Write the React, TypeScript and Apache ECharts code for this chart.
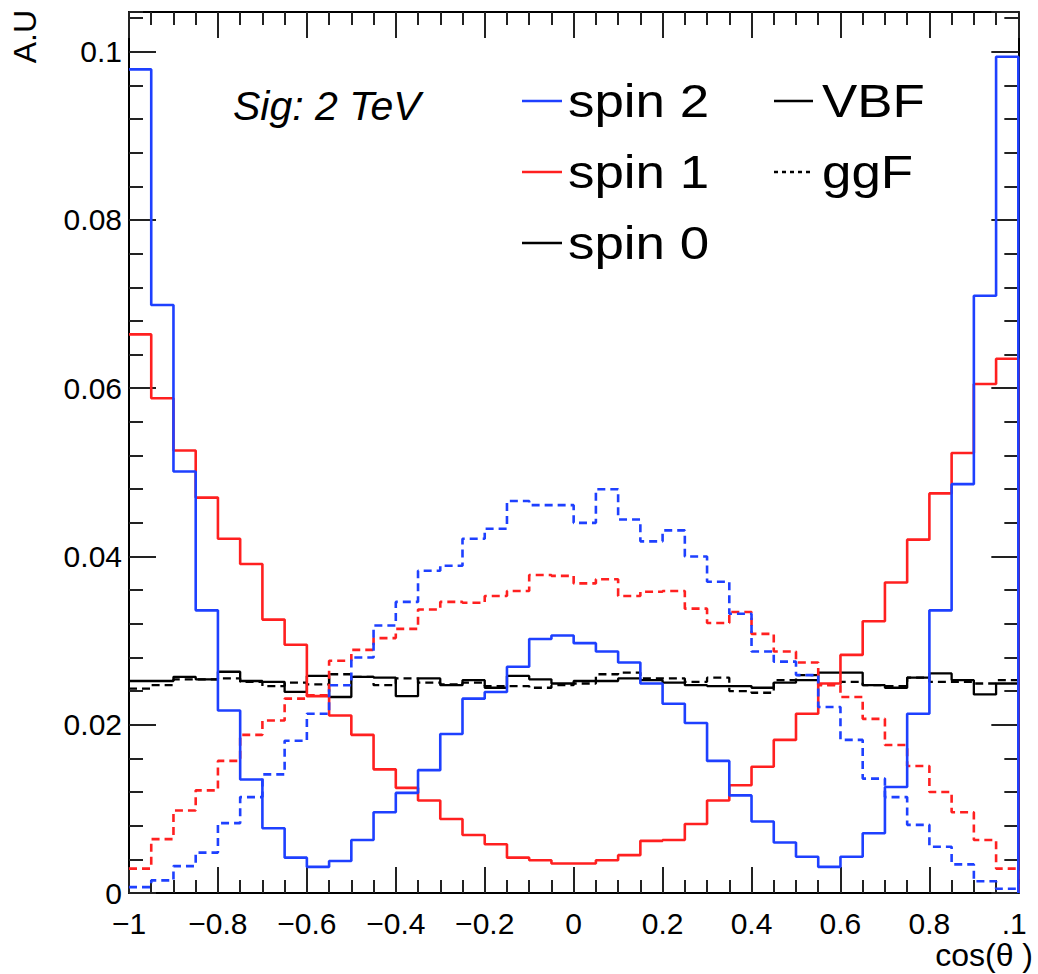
import React, { useEffect, useRef } from "react";
import * as echarts from "echarts";

// 40 bins in cos(theta) from -1 to 1
const binCount = 40;
const xMin = -1;
const xMax = 1;
const binEdges = Array.from({ length: binCount + 1 }, (_, i) => +(xMin + (i * (xMax - xMin)) / binCount).toFixed(3));

const xTickValues = [-1, -0.8, -0.6, -0.4, -0.2, 0, 0.2, 0.4, 0.6, 0.8, 1];
const yTickValues = [0, 0.02, 0.04, 0.06, 0.08, 0.1];

// spin 2
const spin2VBF = [
  0.0979, 0.0699, 0.0501, 0.0336, 0.0217, 0.0135, 0.0077, 0.0042, 0.0031, 0.0038,
  0.0063, 0.0096, 0.0119, 0.0146, 0.0189, 0.0231, 0.0239, 0.0269, 0.0302, 0.0306,
  0.0297, 0.0287, 0.0274, 0.0249, 0.0225, 0.0202, 0.0157, 0.0116, 0.0085, 0.0060,
  0.0043, 0.0031, 0.0043, 0.0071, 0.0126, 0.0213, 0.0336, 0.0486, 0.0710, 0.0994,
];
const spin2ggF = [
  0.0007, 0.0015, 0.0032, 0.0048, 0.0083, 0.0114, 0.0141, 0.0181, 0.0213, 0.0247,
  0.0280, 0.0318, 0.0346, 0.0383, 0.0389, 0.0421, 0.0433, 0.0466, 0.0461, 0.0461,
  0.0440, 0.0480, 0.0444, 0.0418, 0.0431, 0.0400, 0.0370, 0.0332, 0.0287, 0.0275,
  0.0259, 0.0221, 0.0182, 0.0136, 0.0114, 0.0081, 0.0055, 0.0034, 0.0014, 0.0005,
];
// spin 1
const spin1VBF = [
  0.0664, 0.0588, 0.0526, 0.0470, 0.0421, 0.0391, 0.0325, 0.0295, 0.0234, 0.0211,
  0.0188, 0.0147, 0.0125, 0.0110, 0.0088, 0.0069, 0.0058, 0.0042, 0.0039, 0.0035,
  0.0035, 0.0039, 0.0045, 0.0062, 0.0063, 0.0082, 0.0110, 0.0128, 0.0150, 0.0182,
  0.0213, 0.0249, 0.0283, 0.0323, 0.0369, 0.0420, 0.0475, 0.0523, 0.0605, 0.0635,
];
const spin1ggF = [
  0.0029, 0.0064, 0.0098, 0.0122, 0.0157, 0.0188, 0.0205, 0.0231, 0.0235, 0.0276,
  0.0289, 0.0303, 0.0314, 0.0337, 0.0346, 0.0345, 0.0353, 0.0359, 0.0378, 0.0377,
  0.0368, 0.0373, 0.0353, 0.0358, 0.0359, 0.0338, 0.0321, 0.0334, 0.0308, 0.0287,
  0.0274, 0.0247, 0.0233, 0.0207, 0.0176, 0.0151, 0.0120, 0.0096, 0.0063, 0.0029,
];
// spin 0
const spin0VBF = [
  0.0252, 0.0252, 0.0257, 0.0254, 0.0263, 0.0252, 0.0251, 0.0239, 0.0258, 0.0233,
  0.0257, 0.0256, 0.0234, 0.0255, 0.0247, 0.0253, 0.0244, 0.0258, 0.0254, 0.0249,
  0.0252, 0.0252, 0.0255, 0.0253, 0.0250, 0.0247, 0.0246, 0.0246, 0.0244, 0.0250,
  0.0253, 0.0262, 0.0262, 0.0247, 0.0244, 0.0256, 0.0261, 0.0253, 0.0236, 0.0249,
];
const spin0ggF = [
  0.0243, 0.0247, 0.0254, 0.0254, 0.0255, 0.0251, 0.0246, 0.0250, 0.0248, 0.0260,
  0.0257, 0.0247, 0.0255, 0.0250, 0.0248, 0.0250, 0.0246, 0.0246, 0.0244, 0.0247,
  0.0249, 0.0260, 0.0262, 0.0255, 0.0255, 0.0251, 0.0256, 0.0240, 0.0238, 0.0253,
  0.0259, 0.0248, 0.0251, 0.0247, 0.0246, 0.0256, 0.0251, 0.0251, 0.0249, 0.0253,
];

const BLUE = "#1e40ff";
const RED = "#ff2020";
const BLACK = "#000000";
const FONT = "Liberation Sans";
const Y_MAX = 0.10472;

function histPoints(values: number[]) {
  const pts: number[][] = [];
  values.forEach((v, i) => {
    pts.push([binEdges[i], v]);
    pts.push([binEdges[i + 1], v]);
  });
  pts.push([binEdges[binEdges.length - 1], 0]);
  return pts;
}

function histSeries(name: string, values: number[], color: string, dashed: boolean, width: number) {
  return {
    name,
    type: "line",
    data: histPoints(values),
    symbol: "none",
    showSymbol: false,
    silent: true,
    clip: false,
    xAxisIndex: 0,
    yAxisIndex: 0,
    lineStyle: { color, width, type: dashed ? [8, 5] : "solid" },
    emphasis: { disabled: true },
  };
}

const tickStyle = { color: "#222", width: 2 };

export default function App() {
  const ref = useRef<HTMLDivElement>(null);
  useEffect(() => {
    if (!ref.current) return;
    const chart = echarts.init(ref.current, undefined, { renderer: "svg" });
    const xLabelFmt = (v: number) => {
      const r = +v.toFixed(3);
      if (r === 1) return ".1\u00a0";
      return r < 0 ? "\u2212" + String(-r) : String(r);
    };
    const baseX = {
      type: "value",
      min: xMin,
      max: xMax,
      interval: 0.2,
      axisLine: { show: true, onZero: false, lineStyle: { color: BLACK, width: 2 } },
      axisTick: { show: true, inside: true, length: 26, lineStyle: tickStyle },
      minorTick: { show: true, splitNumber: 4, length: 13, lineStyle: tickStyle },
      splitLine: { show: false },
      minorSplitLine: { show: false },
    };
    const baseY = {
      type: "value",
      min: 0,
      max: Y_MAX,
      splitLine: { show: false },
      axisLine: { show: true, onZero: false, lineStyle: { color: BLACK, width: 2 } },
    };
    const option = {
      animation: false,
      backgroundColor: "#ffffff",
      grid: { left: 129, right: 6, top: 12, bottom: 81, containLabel: false },
      xAxis: [
        {
          ...baseX,
          position: "bottom",
          axisLabel: {
            show: true,
            margin: 18,
            fontSize: 30,
            lineHeight: 24,
            fontFamily: FONT,
            color: BLACK,
            formatter: xLabelFmt,
          },
        },
        { ...baseX, position: "top", axisLabel: { show: false } },
      ],
      yAxis: [
        {
          ...baseY,
          position: "left",
          interval: 0.02,
          axisTick: { show: true, inside: true, length: 27, lineStyle: tickStyle },
          axisLabel: {
            show: true,
            margin: 7,
            fontSize: 30,
            lineHeight: 24,
            fontFamily: FONT,
            color: BLACK,
            showMaxLabel: false,
            formatter: (v: number) => String(+v.toFixed(3)),
          },
        },
        {
          ...baseY,
          position: "left",
          interval: 0.004,
          axisLine: { show: false, onZero: false },
          axisTick: { show: true, inside: true, length: 14, lineStyle: tickStyle },
          axisLabel: { show: false },
        },
        {
          ...baseY,
          position: "right",
          interval: 0.02,
          axisTick: { show: true, inside: true, length: 27, lineStyle: tickStyle },
          axisLabel: { show: false },
        },
        {
          ...baseY,
          position: "right",
          interval: 0.004,
          axisLine: { show: false, onZero: false },
          axisTick: { show: true, inside: true, length: 14, lineStyle: tickStyle },
          axisLabel: { show: false },
        },
      ],
      series: [
        histSeries("spin 0 ggF", spin0ggF, BLACK, true, 2.3),
        histSeries("spin 0 VBF", spin0VBF, BLACK, false, 2.3),
        histSeries("spin 1 ggF", spin1ggF, RED, true, 2.6),
        histSeries("spin 1 VBF", spin1VBF, RED, false, 2.6),
        histSeries("spin 2 ggF", spin2ggF, BLUE, true, 2.6),
        histSeries("spin 2 VBF", spin2VBF, BLUE, false, 2.6),
      ],
      graphic: [
        // y axis title
        {
          type: "text",
          x: 25,
          y: 10,
          rotation: Math.PI / 2,
          style: { text: "A.U", fontSize: 32, fontFamily: FONT, fill: BLACK, align: "right", verticalAlign: "middle" },
        },
        // x axis title
        {
          type: "text",
          x: 1033,
          y: 955,
          style: { text: "cos(\u03b8 )", fontSize: 32, fontFamily: FONT, fill: BLACK, align: "right", verticalAlign: "middle" },
        },
        // signal label
        {
          type: "text",
          x: 233,
          y: 106,
          style: { text: "Sig: 2 TeV", fontSize: 41, fontStyle: "italic", fontFamily: FONT, fill: BLACK, align: "left", verticalAlign: "middle" },
        },
        // legend lines
        { type: "line", shape: { x1: 522, y1: 101, x2: 562, y2: 101 }, style: { stroke: BLUE, lineWidth: 2.6 } },
        { type: "line", shape: { x1: 522, y1: 172, x2: 562, y2: 172 }, style: { stroke: RED, lineWidth: 2.6 } },
        { type: "line", shape: { x1: 522, y1: 243, x2: 562, y2: 243 }, style: { stroke: BLACK, lineWidth: 2.3 } },
        { type: "line", shape: { x1: 774, y1: 101, x2: 813, y2: 101 }, style: { stroke: BLACK, lineWidth: 2.3 } },
        { type: "line", shape: { x1: 774, y1: 172, x2: 813, y2: 172 }, style: { stroke: BLACK, lineWidth: 2.3, lineDash: [4, 4] } },
        // legend texts
        { type: "text", x: 568, y: 101, scaleX: 1.15, style: { text: "spin 2", fontSize: 46, fontFamily: FONT, fill: BLACK, align: "left", verticalAlign: "middle" } },
        { type: "text", x: 568, y: 172, scaleX: 1.15, style: { text: "spin 1", fontSize: 46, fontFamily: FONT, fill: BLACK, align: "left", verticalAlign: "middle" } },
        { type: "text", x: 568, y: 243, scaleX: 1.15, style: { text: "spin 0", fontSize: 46, fontFamily: FONT, fill: BLACK, align: "left", verticalAlign: "middle" } },
        { type: "text", x: 822, y: 101, scaleX: 1.15, style: { text: "VBF", fontSize: 46, fontFamily: FONT, fill: BLACK, align: "left", verticalAlign: "middle" } },
        { type: "text", x: 822, y: 172, scaleX: 1.15, style: { text: "ggF", fontSize: 46, fontFamily: FONT, fill: BLACK, align: "left", verticalAlign: "middle" } },
      ],
    };
    chart.setOption(option as any);
    return () => chart.dispose();
  }, []);
  return <div ref={ref} style={{ position: "absolute", left: 0, top: 0, width: 1038, height: 974 }} />;
}
